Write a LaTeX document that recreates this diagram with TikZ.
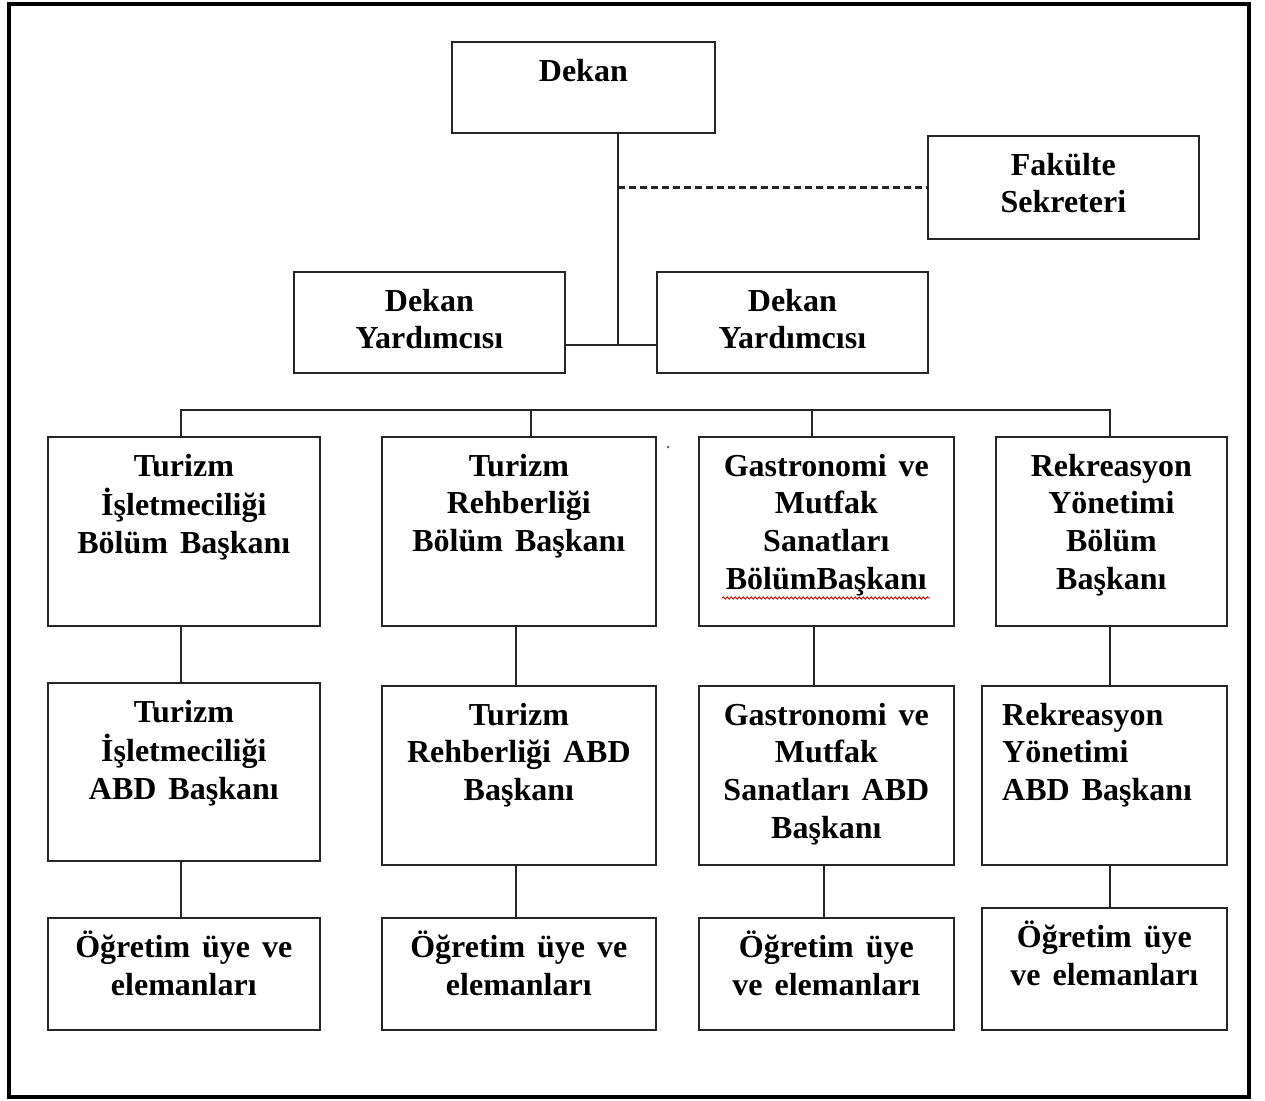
\documentclass[tikz,border=0pt]{standalone}
\usepackage{fontspec}
\setmainfont{Liberation Serif}[WordSpace=1.5]
\usetikzlibrary{decorations.pathmorphing}
\tikzset{
  box/.style={draw=black!85, line width=1.7pt, rectangle, inner sep=0pt, anchor=north west},
  txt/.style={inner sep=0pt, align=center, font=\bfseries\fontsize{32}{37.7}\selectfont},
  con/.style={draw=black!85, line width=1.6pt},
}
\newcommand\obox[6]{%
  \node[box, minimum width={#4-#2}, minimum height={#5-#3}] (#1) at (#2,#3) {};
  \node[txt, anchor=north] (#1t) at ([yshift=-13.6]#1.north) {\strut #6};}
\begin{document}
\begin{tikzpicture}[x=1pt,y=-1pt]
\useasboundingbox (0,0) rectangle (1265,1100);
\draw[line width=4pt] (9,4) rectangle (1249,1097);
\obox{dekan}{451}{41}{714}{132}{Dekan}
\obox{fak}{927}{135}{1198}{238}{Fakülte\\Sekreteri}
\obox{dy1}{293}{271}{564}{372}{Dekan\\Yardımcısı}
\obox{dy2}{656}{271}{927}{372}{Dekan\\Yardımcısı}
\obox{a1}{47}{436}{319}{625}{Turizm\\İşletmeciliği\\Bölüm Başkanı}
\obox{b1}{381}{436}{655}{625}{Turizm\\Rehberliği\\Bölüm Başkanı}
\obox{c1}{698}{436}{953}{625}{Gastronomi ve\\Mutfak\\Sanatları\\BölümBaşkanı}
\obox{d1}{995}{436}{1226}{625}{Rekreasyon\\Yönetimi\\Bölüm\\Başkanı}
\obox{a2}{47}{682}{319}{860}{Turizm\\İşletmeciliği\\ABD Başkanı}
\obox{b2}{381}{685}{655}{864}{Turizm\\Rehberliği ABD\\Başkanı}
\obox{c2}{698}{685}{953}{864}{Gastronomi ve\\Mutfak\\Sanatları ABD\\Başkanı}
\node[box, minimum width=245, minimum height=179] (d2) at (981,685) {};
\node[txt, align=left, anchor=north west] (d2t) at (1002,698.6) {\strut Rekreasyon\\Yönetimi\\ABD Başkanı};
\obox{a3}{47}{917}{319}{1029}{Öğretim üye ve\\elemanları}
\obox{b3}{381}{917}{655}{1029}{Öğretim üye ve\\elemanları}
\obox{c3}{698}{917}{953}{1029}{Öğretim üye\\ve elemanları}
\obox{d3}{981}{907}{1226}{1029}{Öğretim üye\\ve elemanları}
% spell-check underline
\draw[red!80!black, line width=0.8pt, decorate, decoration={snake, amplitude=1.2pt, segment length=4pt}] (722,598) -- (930,598);
\fill[black!60] (668,447) circle (1.5);
% connectors
\coordinate (j) at (618,345);
\coordinate (bus) at (0,410);
\draw[con] (dekan.south -| j) -- (j);
\draw[con, line width=2.6pt, dash pattern=on 7pt off 4pt] (j |- fak.west) -- (fak.west);
\draw[con] (dy1.east |- j) -- (dy2.west |- j);
\draw[con] ([xshift=-3]a1.north) -- ([xshift=-3]a1.north |- bus) -- ([xshift=-1.5]d1.north |- bus) -- ([xshift=-1.5]d1.north);
\draw[con] ([xshift=12]b1.north) -- ([xshift=12]b1.north |- bus);
\draw[con] ([xshift=-14.5]c1.north) -- ([xshift=-14.5]c1.north |- bus);
\draw[con] ([xshift=-3]a1.south) -- ([xshift=-3]a1.south |- a2.north);
\draw[con] ([xshift=-3]b1.south) -- ([xshift=-3]b1.south |- b2.north);
\draw[con] ([xshift=-12.5]c1.south) -- ([xshift=-12.5]c1.south |- c2.north);
\draw[con] ([xshift=-1.5]d1.south) -- ([xshift=-1.5]d1.south |- d2.north);
\draw[con] ([xshift=-3]a2.south) -- ([xshift=-3]a2.south |- a3.north);
\draw[con] ([xshift=-3]b2.south) -- ([xshift=-3]b2.south |- b3.north);
\draw[con] ([xshift=-2.5]c2.south) -- ([xshift=-2.5]c2.south |- c3.north);
\draw[con] ([xshift=5.5]d2.south) -- ([xshift=5.5]d2.south |- d3.north);
\end{tikzpicture}
\end{document}
